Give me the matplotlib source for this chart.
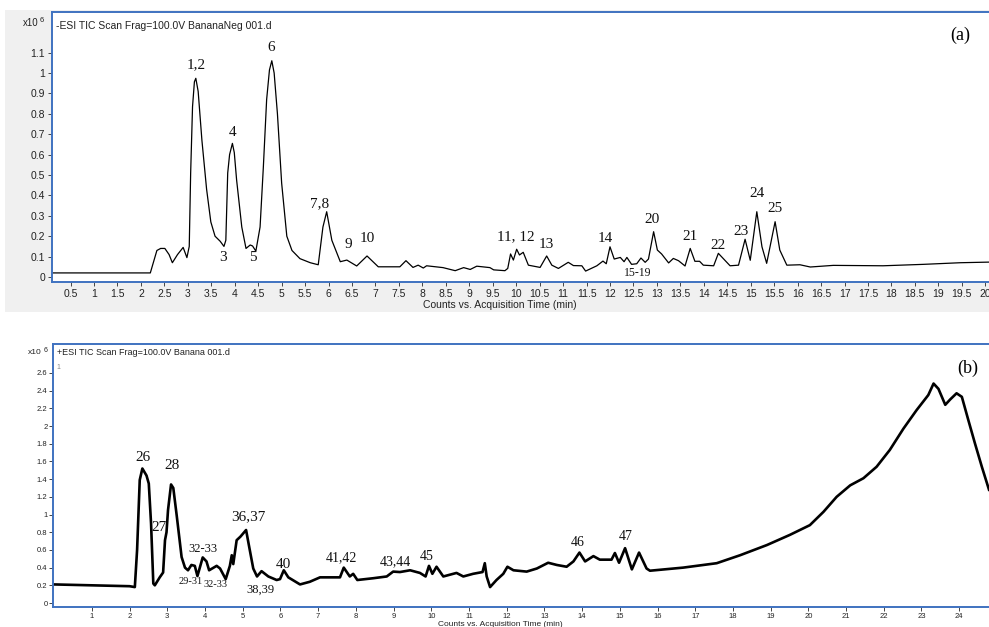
import matplotlib
matplotlib.use("Agg")
import matplotlib.pyplot as plt
from matplotlib.patches import Rectangle

# ---- panel (a): -ESI TIC, counts x10^6 ----
time_a = [0.10, 0.50, 1.00, 1.50, 2.00, 2.20, 2.34, 2.42, 2.51, 2.60, 2.67, 2.78, 2.90, 2.98,
          3.03, 3.06, 3.10, 3.14, 3.17, 3.22, 3.30, 3.40, 3.49, 3.58, 3.69, 3.77,
          3.81, 3.85, 3.89, 3.95, 3.99, 4.04,
          4.15, 4.24, 4.33, 4.38, 4.45,
          4.54, 4.61, 4.68, 4.74, 4.79, 4.84, 4.91, 5.00,
          5.11, 5.22, 5.39, 5.61, 5.78, 5.88, 5.96, 6.07, 6.25, 6.39, 6.60, 6.82, 7.06, 7.52,
          7.65, 7.80, 7.91, 8.02, 8.09, 8.44, 8.70, 8.88, 9.02, 9.16, 9.44, 9.52, 9.76, 9.82,
          9.88, 9.94, 10.01, 10.07, 10.15, 10.26, 10.51, 10.65, 10.76, 10.90, 11.11, 11.22,
          11.40, 11.48, 11.72, 11.85, 11.92, 12.00, 12.09, 12.22, 12.30, 12.36, 12.46, 12.57,
          12.66, 12.75, 12.82, 12.93, 13.01, 13.10, 13.25, 13.35, 13.46, 13.60, 13.71, 13.81,
          13.91, 13.99, 14.21, 14.31, 14.43, 14.56, 14.74, 14.88, 14.99, 15.13, 15.24, 15.34,
          15.52, 15.62, 15.77, 16.05, 16.27, 16.76, 17.82, 18.68, 19.47, 20.08]
counts_a = [0.02, 0.02, 0.02, 0.02, 0.02, 0.02, 0.13, 0.14, 0.14, 0.11, 0.07, 0.11, 0.145, 0.095,
            0.15, 0.51, 0.835, 0.957, 0.974, 0.91, 0.67, 0.43, 0.27, 0.20, 0.175, 0.15,
            0.18, 0.51, 0.60, 0.655, 0.61, 0.475,
            0.245, 0.14, 0.157, 0.152, 0.127,
            0.245, 0.54, 0.87, 1.015, 1.06, 1.0, 0.80, 0.46,
            0.20, 0.13, 0.09, 0.07, 0.06, 0.245, 0.32, 0.18, 0.075, 0.083, 0.054, 0.103, 0.05, 0.05,
            0.08, 0.047, 0.058, 0.044, 0.055, 0.046, 0.031, 0.046, 0.037, 0.053, 0.046, 0.035, 0.031, 0.042,
            0.113, 0.083, 0.136, 0.108, 0.121, 0.058, 0.047, 0.103, 0.058, 0.042, 0.072, 0.056,
            0.055, 0.029, 0.055, 0.078, 0.065, 0.148, 0.088, 0.096, 0.075, 0.096, 0.062, 0.065,
            0.093, 0.072, 0.088, 0.222, 0.132, 0.113, 0.069, 0.091, 0.08, 0.054, 0.14, 0.077,
            0.077, 0.058, 0.055, 0.116, 0.087, 0.055, 0.058, 0.185, 0.082, 0.32, 0.148, 0.067,
            0.271, 0.132, 0.058, 0.06, 0.049, 0.057, 0.055, 0.062, 0.070, 0.073]

peaks_a = ["1,2", "3", "4", "5", "6", "7,8", "9", "10", "11, 12", "13", "14", "15-19",
           "20", "21", "22", "23", "24", "25"]
peaks_a_x = [3.17, 3.75, 3.96, 4.39, 4.77, 5.80, 6.42, 6.82, 10.0, 10.64, 11.9, 12.6,
             12.9, 13.71, 14.31, 14.8, 15.14, 15.52]
peaks_a_y = [1.04, 0.098, 0.706, 0.098, 1.127, 0.358, 0.157, 0.191, 0.196, 0.157, 0.191, 0.02,
             0.284, 0.20, 0.152, 0.225, 0.407, 0.338]

# ---- panel (b): +ESI TIC, counts x10^6 ----
time_b = [0.0, 1.0, 2.0, 2.14, 2.20, 2.27, 2.34, 2.45, 2.51, 2.57, 2.63, 2.67, 2.80, 2.89,
          2.94, 2.98, 3.02, 3.10, 3.16, 3.25, 3.38, 3.47, 3.55, 3.64, 3.73, 3.80, 3.94, 4.04,
          4.11, 4.31, 4.40, 4.55, 4.66, 4.71, 4.75, 4.84, 4.94, 5.09, 5.17, 5.28, 5.38, 5.50,
          5.68, 5.90, 5.99, 6.09, 6.21, 6.52, 6.78, 7.05, 7.58, 7.68, 7.84, 7.93, 8.04, 8.46,
          8.82, 8.99, 9.17, 9.44, 9.70, 9.85, 9.94, 10.03, 10.14, 10.32, 10.67, 10.85, 11.11,
          11.36, 11.42, 11.47, 11.56, 11.73, 11.91, 12.02, 12.18, 12.53, 12.80, 13.10, 13.33,
          13.59, 13.77, 13.93, 14.08, 14.30, 14.47, 14.78, 14.87, 14.98, 15.14, 15.32, 15.51,
          15.71, 15.80, 16.68, 17.57, 18.19, 18.90, 19.51, 20.04, 20.40, 20.75, 21.11, 21.46,
          21.81, 22.16, 22.52, 22.87, 23.18, 23.32, 23.45, 23.63, 23.76, 23.93, 24.07, 24.24,
          24.42, 24.60, 24.79]
counts_b = [0.21, 0.20, 0.19, 0.18, 0.6, 1.39, 1.52, 1.44, 1.35, 0.9, 0.22, 0.20, 0.29, 0.345,
            0.71, 0.80, 1.05, 1.34, 1.30, 0.99, 0.52, 0.40, 0.37, 0.43, 0.42, 0.305, 0.515, 0.47,
            0.37, 0.42, 0.39, 0.27, 0.42, 0.54, 0.44, 0.71, 0.75, 0.825, 0.64, 0.39, 0.30, 0.36,
            0.30, 0.26, 0.27, 0.37, 0.29, 0.21, 0.24, 0.29, 0.29, 0.40, 0.30, 0.33, 0.26, 0.28,
            0.30, 0.355, 0.35, 0.37, 0.34, 0.30, 0.42, 0.33, 0.41, 0.30, 0.34, 0.30, 0.33,
            0.35, 0.45, 0.30, 0.18, 0.26, 0.33, 0.41, 0.37, 0.355, 0.39, 0.455, 0.43,
            0.41, 0.47, 0.57, 0.47, 0.53, 0.49, 0.49, 0.565, 0.455, 0.62, 0.38, 0.57,
            0.39, 0.365, 0.40, 0.45, 0.54, 0.655, 0.77, 0.88, 1.03, 1.20, 1.33, 1.41,
            1.54, 1.73, 1.97, 2.18, 2.35, 2.48, 2.42, 2.24, 2.30, 2.37, 2.33, 2.07,
            1.80, 1.54, 1.28]

peaks_b = ["26", "27", "28", "32-33", "29-31", "32-33", "36,37", "38,39", "40",
           "41,42", "43,44", "45", "46", "47"]
peaks_b_x = [2.35, 2.78, 3.12, 3.94, 3.63, 4.29, 5.14, 5.48, 6.07, 7.62, 9.06, 9.88, 13.89, 15.16]
peaks_b_y = [1.64, 0.85, 1.55, 0.61, 0.24, 0.21, 0.98, 0.15, 0.43, 0.51, 0.47, 0.53, 0.68, 0.75]
peaks_b_size = [11, 11, 11, 9, 7.5, 7.5, 11, 9, 11, 10, 10, 10, 10, 10]

W, H = 989, 627
blue = '#3f72c0'
serif = 'Liberation Serif'
sans = 'Liberation Sans'

fig = plt.figure(figsize=(W / 100, H / 100), dpi=100)
fig.patch.set_facecolor('white')
fig.patches.append(Rectangle((5 / W, 1 - 312 / H), 1, (312 - 10) / H,
                             transform=fig.transFigure, facecolor='#f0f0f0',
                             edgecolor='none', zorder=-5))

def style(ax, size, pad):
    for side in ['left', 'top', 'bottom']:
        ax.spines[side].set_color(blue)
        ax.spines[side].set_linewidth(1.4)
    ax.spines['right'].set_visible(False)
    ax.tick_params(direction='out', length=3, width=0.7, color='#444444',
                   labelsize=size, labelcolor='#222222', pad=pad)
    for lab in ax.get_xticklabels() + ax.get_yticklabels():
        lab.set_family(sans)

# panel (a)
ax1 = fig.add_axes([52 / W, 1 - 282 / H, 1 - 52 / W, 270 / H])
ax1.set_zorder(2)
ax1.plot(time_a, counts_a, color='black', lw=0.9)
ax1.set_xlim(0.104, 20.08)
ax1.set_ylim(-0.0245, 1.299)
ax1.set_yticks([i / 10 for i in range(12)])
ax1.set_yticklabels(['%g' % (i / 10) for i in range(12)])
ax1.set_xticks([i / 2 for i in range(1, 41)])
ax1.set_xticklabels(['%g' % (i / 2) for i in range(1, 41)])
style(ax1, 7.5, 2)
ax1.text(0.004, 0.965, '-ESI TIC Scan Frag=100.0V BananaNeg 001.d', transform=ax1.transAxes,
         fontsize=7.5, family=sans, va='top', color='#222222')
fig.text(23 / W, 1 - 23 / H, 'x10', fontsize=7, family=sans, va='center', color='#222222')
fig.text(40 / W, 1 - 20 / H, '6', fontsize=5.5, family=sans, va='center', color='#222222')
fig.text(500 / W, 1 - 305 / H, 'Counts vs. Acquisition Time (min)', fontsize=7.5, family=sans,
         ha='center', va='center', color='#222222')
for lab, x, y in zip(peaks_a, peaks_a_x, peaks_a_y):
    ax1.text(x, y, lab, fontsize=8.5 if lab == '15-19' else 11, family=serif,
             ha='center', va='center', color='#111111')
fig.text(960 / W, 1 - 35 / H, '(a)', fontsize=13, family=serif, ha='center', va='center')

# panel (b)
ax2 = fig.add_axes([53 / W, 1 - 607 / H, 1 - 53 / W, 263 / H])
ax2.set_zorder(2)
ax2.plot(time_b, counts_b, color='black', lw=1.9)
ax2.set_xlim(-0.03, 24.79)
ax2.set_ylim(-0.045, 2.927)
ax2.set_yticks([i / 5 for i in range(14)])
ax2.set_yticklabels(['%g' % (i / 5) for i in range(14)])
ax2.set_xticks(range(1, 25))
style(ax2, 5.5, 1)
ax2.text(0.004, 0.985, '+ESI TIC Scan Frag=100.0V Banana 001.d', transform=ax2.transAxes,
         fontsize=6.5, family=sans, va='top', color='#222222')
ax2.text(0.004, 0.925, '1', transform=ax2.transAxes, fontsize=5, family=sans,
         va='top', color='#888888')
fig.text(28 / W, 1 - 353 / H, 'x10', fontsize=6, family=sans, va='center', color='#222222')
fig.text(44 / W, 1 - 350 / H, '6', fontsize=5, family=sans, va='center', color='#222222')
fig.text(500 / W, 1 - 624 / H, 'Counts vs. Acquisition Time (min)', fontsize=6, family=sans,
         ha='center', va='center', color='#222222')
for lab, x, y, s in zip(peaks_b, peaks_b_x, peaks_b_y, peaks_b_size):
    ax2.text(x, y, lab, fontsize=s, family=serif, ha='center', va='center', color='#111111')
fig.text(968 / W, 1 - 368 / H, '(b)', fontsize=13, family=serif, ha='center', va='center')

fig.savefig('out.png', dpi=100)
